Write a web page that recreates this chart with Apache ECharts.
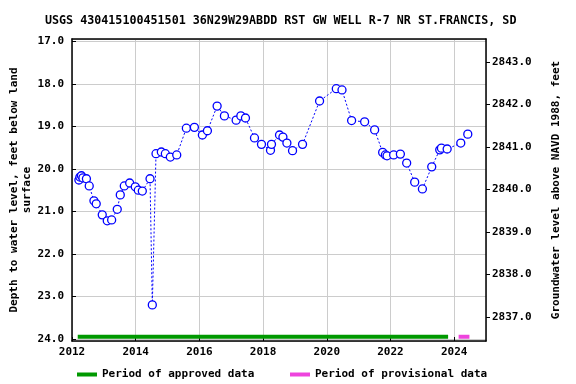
<!DOCTYPE html>
<html>
<head>
<meta charset="utf-8">
<script src="https://cdn.jsdelivr.net/npm/echarts@6/dist/echarts.min.js"></script>
<style>html,body{margin:0;padding:0;background:#fff}#c{width:576px;height:384px}</style>
</head>
<body>
<div id="c"></div>
<script>
const titleText = 'USGS 430415100451501 36N29W29ABDD RST GW WELL R-7 NR ST.FRANCIS, SD';
const years = [2012.217,2012.248,2012.296,2012.343,2012.453,2012.541,2012.689,2012.761,2012.950,2013.107,
  2013.245,2013.421,2013.516,2013.642,2013.811,2013.987,2014.082,2014.208,2014.450,2014.522,
  2014.638,2014.805,2014.931,2015.088,2015.289,2015.591,2015.843,2016.094,2016.252,2016.557,
  2016.786,2017.154,2017.302,2017.447,2017.730,2017.950,2018.233,2018.264,2018.516,2018.623,
  2018.748,2018.925,2019.239,2019.774,2020.299,2020.478,2020.780,2021.189,2021.503,2021.755,
  2021.840,2021.893,2022.101,2022.311,2022.509,2022.761,2023.003,2023.296,2023.547,2023.601,
  2023.780,2024.208,2024.428];
const depths = [20.26,20.19,20.16,20.21,20.23,20.40,20.75,20.82,21.08,21.22,
  21.20,20.95,20.61,20.40,20.33,20.42,20.50,20.52,20.23,23.20,
  19.64,19.60,19.64,19.72,19.67,19.04,19.02,19.20,19.10,18.52,
  18.75,18.85,18.75,18.80,19.27,19.42,19.56,19.42,19.20,19.25,
  19.39,19.57,19.42,18.40,18.11,18.14,18.86,18.89,19.08,19.61,
  19.67,19.69,19.67,19.65,19.86,20.31,20.47,19.95,19.55,19.51,
  19.53,19.39,19.18];
const approvedPeriod = [2012.18, 2023.81];
const provisionalPeriod = [2024.14, 2024.48];
const periodLevel = 23.95;
const datumOffset = 2860.48; // land surface elevation: level = datum - depth
const depthMin = 16.94, depthMax = 24.05;
const xMin = 2012, xMax = 2025, xStep = 2;

const font = 'DejaVu Sans Mono';
const chart = echarts.init(document.getElementById('c'));
chart.setOption({
  animation: false,
  backgroundColor: '#fff',
  title: {
    text: titleText, left: 40, top: 10,
    textStyle: {fontFamily: font, fontWeight: 'bold', fontSize: 11.7, color: '#000'}
  },
  grid: {left: 72, right: 90, top: 39, bottom: 43, containLabel: false, outerBoundsMode: 'none'},
  legend: [
    {data: [{name: 'Period of approved data'}], left: 72, top: 364, icon: 'rect', itemWidth: 20, itemHeight: 4,
     textStyle: {fontFamily: font, fontWeight: 'bold', fontSize: 11, color: '#000'}},
    {data: [{name: 'Period of provisional data'}], left: 285, top: 364, icon: 'rect', itemWidth: 20, itemHeight: 4,
     textStyle: {fontFamily: font, fontWeight: 'bold', fontSize: 11, color: '#000'}}
  ],
  xAxis: [{
    type: 'value', min: xMin, max: xMax, interval: xStep, position: 'bottom',
    axisLine: {show: true, onZero: false, lineStyle: {color: '#000', width: 1.5}},
    axisTick: {show: true, inside: true, length: 4, lineStyle: {color: '#000'}},
    axisLabel: {fontFamily: font, fontWeight: 'bold', fontSize: 11, color: '#000', margin: 6,
      showMaxLabel: false, formatter: v => String(v)},
    splitLine: {show: true, lineStyle: {color: '#cccccc', width: 1}}
  }, {
    type: 'value', min: xMin, max: xMax, interval: xStep, position: 'top',
    axisLine: {show: true, onZero: false, lineStyle: {color: '#000', width: 1.5}},
    axisTick: {show: false}, axisLabel: {show: false}, splitLine: {show: false}
  }],
  yAxis: [{
    type: 'value', inverse: true, min: depthMin, max: depthMax, splitNumber: 7, position: 'left',
    name: 'Depth to water level, feet below land\nsurface', nameLocation: 'middle', nameRotate: 90, nameGap: 38,
    nameMoveOverlap: false,
    nameTextStyle: {fontFamily: font, fontWeight: 'bold', fontSize: 11, color: '#000', lineHeight: 13},
    axisLine: {show: true, onZero: false, lineStyle: {color: '#000', width: 1.5}},
    axisTick: {show: true, inside: true, length: 4, lineStyle: {color: '#000'}},
    axisLabel: {fontFamily: font, fontWeight: 'bold', fontSize: 11, color: '#000', margin: 8,
      showMinLabel: false, showMaxLabel: false, formatter: v => v.toFixed(1)},
    splitLine: {show: true, lineStyle: {color: '#cccccc', width: 1}}
  }, {
    type: 'value', min: datumOffset - depthMax, max: datumOffset - depthMin, splitNumber: 7, position: 'right',
    name: 'Groundwater level above NAVD 1988, feet', nameLocation: 'middle', nameRotate: 90, nameGap: 65,
    nameMoveOverlap: false,
    nameTextStyle: {fontFamily: font, fontWeight: 'bold', fontSize: 11, color: '#000'},
    axisLine: {show: true, onZero: false, lineStyle: {color: '#000', width: 1.5}},
    axisTick: {show: true, inside: false, length: 4, lineStyle: {color: '#000'}},
    axisLabel: {fontFamily: font, fontWeight: 'bold', fontSize: 11, color: '#000', margin: 6,
      showMinLabel: false, showMaxLabel: false, formatter: v => v.toFixed(1)},
    splitLine: {show: false}
  }],
  series: [{
    name: 'levels', type: 'line', xAxisIndex: 0, yAxisIndex: 0,
    data: years.map((y, i) => [y, depths[i]]),
    symbol: 'circle', symbolSize: 8,
    lineStyle: {color: '#0000ff', width: 1, type: [2, 2]},
    itemStyle: {color: '#ffffff', borderColor: '#0000ff', borderWidth: 1.3},
    z: 5
  }, {
    name: 'Period of approved data', type: 'line', xAxisIndex: 0, yAxisIndex: 0,
    data: approvedPeriod.map(x => [x, periodLevel]), symbol: 'none',
    lineStyle: {color: '#009900', width: 4}, itemStyle: {color: '#009900'}
  }, {
    name: 'Period of provisional data', type: 'line', xAxisIndex: 0, yAxisIndex: 0,
    data: provisionalPeriod.map(x => [x, periodLevel]), symbol: 'none',
    lineStyle: {color: '#ee44dd', width: 4}, itemStyle: {color: '#ee44dd'}
  }]
});
</script>
</body>
</html>
